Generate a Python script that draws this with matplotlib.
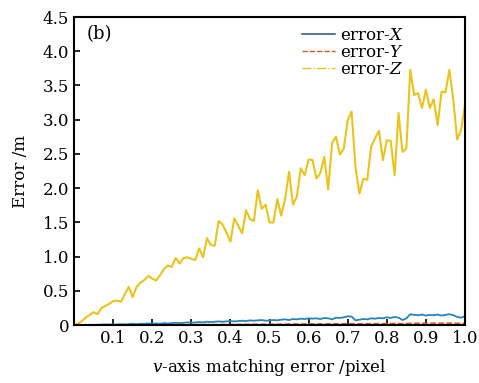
import numpy as np
import matplotlib
matplotlib.use("Agg")
import matplotlib.pyplot as plt
from matplotlib.lines import Line2D

plt.rcParams['font.family'] = 'DejaVu Serif'
plt.rcParams['mathtext.fontset'] = 'dejavuserif'

# pixel matching error 0..1 in 0.01 steps
pix_err = np.round(np.arange(0, 101) * 0.01, 2)

err_x = [0.0,
         0.0, 0.0, 0.0, 0.005, 0.005, 0.005, 0.01, 0.01, 0.01, 0.01,
         0.01, 0.015, 0.01, 0.015, 0.02, 0.015, 0.02, 0.02, 0.025, 0.02,
         0.025, 0.02, 0.03, 0.025, 0.03, 0.035, 0.03, 0.035, 0.04, 0.035,
         0.04, 0.045, 0.04, 0.05, 0.045, 0.05, 0.055, 0.05, 0.055, 0.06,
         0.055, 0.06, 0.065, 0.06, 0.07, 0.065, 0.07, 0.075, 0.065, 0.07,
         0.075, 0.07, 0.08, 0.085, 0.075, 0.09, 0.085, 0.095, 0.09, 0.10,
         0.095, 0.10, 0.09, 0.105, 0.10, 0.085, 0.11, 0.105, 0.115, 0.13,
         0.125, 0.07, 0.08, 0.09, 0.085, 0.10, 0.095, 0.105, 0.10, 0.115,
         0.105, 0.12, 0.11, 0.075, 0.10, 0.16, 0.15, 0.145, 0.155, 0.14,
         0.15, 0.145, 0.155, 0.14, 0.15, 0.16, 0.145, 0.12, 0.11, 0.13]

err_y = [0.0,
         0.0, 0.0, 0.0, 0.0, 0.001, 0.001, 0.001, 0.002, 0.002, 0.002,
         0.002, 0.003, 0.003, 0.003, 0.004, 0.004, 0.004, 0.005, 0.005, 0.005,
         0.005, 0.006, 0.006, 0.006, 0.007, 0.007, 0.007, 0.008, 0.008, 0.008,
         0.009, 0.009, 0.009, 0.010, 0.010, 0.010, 0.011, 0.011, 0.011, 0.012,
         0.012, 0.012, 0.013, 0.013, 0.013, 0.014, 0.014, 0.014, 0.015, 0.015,
         0.015, 0.016, 0.016, 0.016, 0.017, 0.017, 0.017, 0.018, 0.018, 0.018,
         0.019, 0.019, 0.019, 0.020, 0.020, 0.019, 0.021, 0.021, 0.021, 0.022,
         0.022, 0.019, 0.020, 0.021, 0.021, 0.022, 0.022, 0.023, 0.023, 0.024,
         0.024, 0.025, 0.025, 0.022, 0.024, 0.027, 0.027, 0.027, 0.028, 0.028,
         0.028, 0.029, 0.029, 0.028, 0.029, 0.030, 0.029, 0.027, 0.026, 0.027]

err_z = [0.0,
         0.02, 0.06, 0.11, 0.15, 0.19, 0.16, 0.25, 0.28, 0.31, 0.35,
         0.36, 0.34, 0.45, 0.56, 0.41, 0.56, 0.62, 0.66, 0.72, 0.68,
         0.65, 0.73, 0.82, 0.87, 0.85, 0.98, 0.90, 0.98, 0.99, 0.97,
         0.95, 1.12, 0.99, 1.27, 1.17, 1.16, 1.52, 1.47, 1.35, 1.22,
         1.56, 1.45, 1.34, 1.68, 1.55, 1.52, 1.97, 1.70, 1.76, 1.50,
         1.50, 1.84, 1.60, 1.85, 2.24, 1.76, 1.88, 2.29, 2.19, 2.42,
         2.41, 2.14, 2.22, 2.46, 1.98, 2.66, 2.75, 2.49, 2.58, 2.99,
         3.12, 2.30, 1.92, 2.14, 2.12, 2.61, 2.73, 2.84, 2.41, 2.70,
         2.69, 2.19, 3.10, 2.53, 2.58, 3.73, 3.36, 3.39, 3.17, 3.44,
         3.17, 3.30, 2.92, 3.41, 3.40, 3.73, 3.29, 2.71, 2.85, 3.22]

x_ticks = [0.1, 0.2, 0.3, 0.4, 0.5, 0.6, 0.7, 0.8, 0.9, 1.0]
y_ticks = [0, 0.5, 1.0, 1.5, 2.0, 2.5, 3.0, 3.5, 4.0, 4.5]
y_labels = ['0', '0.5', '1.0', '1.5', '2.0', '2.5', '3.0', '3.5', '4.0', '4.5']

fig = plt.figure(figsize=(4.79, 3.83), dpi=100)
ax = fig.add_axes([0.1545, 0.151, 0.8163, 0.8046])

ax.plot(pix_err, err_x, color='#2585b8', lw=1.3)
ax.plot(pix_err, err_y, color='#d9541a', lw=1.1, ls='--')
ax.plot(pix_err, err_z, color='#e9c41c', lw=1.5)

handles = [Line2D([], [], color='#24507a', lw=1.1),
           Line2D([], [], color='#d9541a', lw=1.0, ls='--'),
           Line2D([], [], color='#e9c41c', lw=1.0, ls='-.')]
ax.legend(handles, ['error-$X$', 'error-$Y$', 'error-$Z$'],
          loc='upper right', bbox_to_anchor=(0.87, 1.0), frameon=False,
          fontsize=12, handlelength=2.0, handletextpad=0.3,
          labelspacing=0.0, borderaxespad=0.2)

ax.text(0.032, 0.945, '(b)', transform=ax.transAxes, fontsize=13,
        va='center', ha='left')

ax.set_xlim(0, 1.0)
ax.set_ylim(0, 4.5)
ax.set_xticks(x_ticks)
ax.set_xticklabels([f'{t:.1f}' for t in x_ticks])
ax.set_yticks(y_ticks)
ax.set_yticklabels(y_labels)
ax.tick_params(direction='in', length=4, width=1.2, labelsize=12,
               top=False, right=False)
for s in ax.spines.values():
    s.set_linewidth(1.5)

ax.set_xlabel('$v$-axis matching error /pixel', fontsize=12, labelpad=7)
ax.set_ylabel('Error /m', fontsize=12, labelpad=10)

fig.savefig('out.png', dpi=100)
